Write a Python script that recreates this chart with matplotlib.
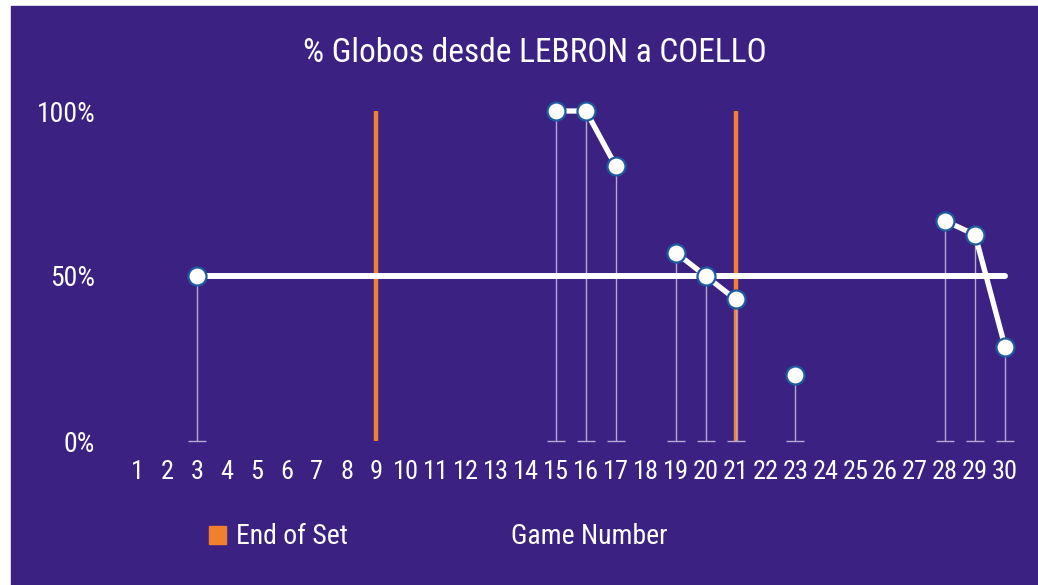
import numpy as np
import matplotlib
matplotlib.use('Agg')
import matplotlib.pyplot as plt
from matplotlib.patches import Rectangle, Patch

# data
games = [3, 15, 16, 17, 19, 20, 21, 23, 28, 29, 30]
pct = [0.50, 1.00, 1.00, 0.833, 0.571, 0.50, 0.429, 0.20, 0.667, 0.625, 0.286]
set_ends = [9, 21]
avg_line = 0.50
x_labels = [str(i) for i in range(1, 31)]
title = '% Globos desde LEBRON a COELLO'

bg = '#3b2282'
orange = '#f07f2e'
fonts = ['Roboto Condensed', 'Liberation Sans Narrow', 'DejaVu Sans']
plt.rcParams['font.family'] = fonts
plt.rcParams['font.stretch'] = 'condensed'

W, H = 1038, 585
fig = plt.figure(figsize=(W / 100, H / 100), dpi=100, facecolor='white')
# purple panel (small white strip at top and left in the reference)
fig.patches.append(Rectangle((11 / W, 0), 1 - 11 / W, 1 - 6 / H,
                             transform=fig.transFigure, color=bg, zorder=-10))

ax = fig.add_axes([137 / W, 144 / H, 868 / W, 330 / H])
ax.set_facecolor('none')
ax.set_xlim(1, 30)
ax.set_ylim(0, 1)
for s in ax.spines.values():
    s.set_visible(False)

# full series over every game, NaN where no data -> gaps between runs
full = np.full(30, np.nan)
for g, p in zip(games, pct):
    full[g - 1] = p
xs = np.arange(1, 31)

ax.vlines(set_ends, 0, 1, color=orange, lw=3.2, zorder=1, clip_on=False)
ax.vlines(games, 0, pct, color='#b3a9d3', lw=1, zorder=2, clip_on=False)
ax.plot(games, [0] * len(games), ls='none', marker='_', markersize=13,
        mew=1, color='#b3a9d3', zorder=2, clip_on=False)
ax.plot([games[0], games[-1]], [avg_line, avg_line], color='white', lw=4.3,
        solid_capstyle='round', zorder=3, clip_on=False)
ax.plot(xs, full, color='white', lw=3.8, zorder=4, clip_on=False)
ax.plot(games, pct, ls='none', marker='o', markersize=13, mfc='white',
        mec='#1f5a9e', mew=1.6, zorder=5, clip_on=False)

ax.set_xticks(xs)
ax.set_xticklabels(x_labels)
ax.set_yticks([0, 0.5, 1])
ax.set_yticklabels(['0%', '50%', '100%'])
ax.tick_params(axis='x', length=0, pad=14, labelsize=19, labelcolor='white')
ax.tick_params(axis='y', length=0, pad=30, labelsize=20, labelcolor='white')

ax.set_xlabel('Game Number', color='white', fontsize=20)
ax.xaxis.set_label_coords((589 - 137) / 868, -(536 - 441) / 330)
ax.xaxis.label.set_va('center')

fig.text(535 / W, 1 - 53 / H, title, color='white', fontsize=24,
         ha='center', va='center')

fig.legend(handles=[Patch(color=orange, label='End of Set')],
           loc='center left', bbox_to_anchor=(184 / W, 1 - 537 / H),
           frameon=False, fontsize=20, labelcolor='white',
           handlelength=0.62, handleheight=0.62, handletextpad=0.35)

fig.savefig('out.png', dpi=100, facecolor=fig.get_facecolor())
